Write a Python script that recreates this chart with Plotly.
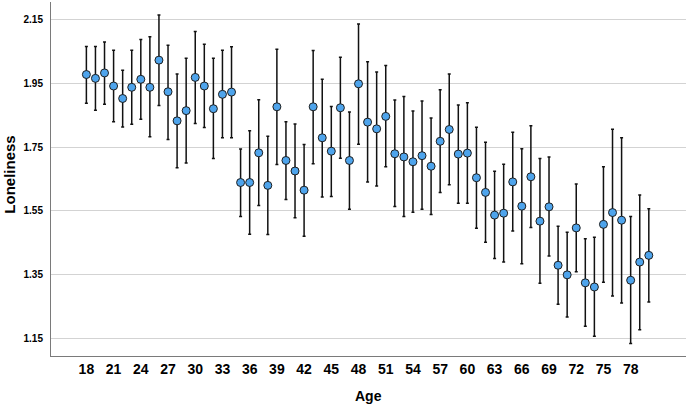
import plotly.graph_objects as go

ages = list(range(18, 81))
means = [1.977, 1.965, 1.982, 1.941, 1.902, 1.937, 1.962, 1.937, 2.022, 1.923,
         1.832, 1.864, 1.968, 1.941, 1.870, 1.915, 1.922, 1.639, 1.639, 1.732,
         1.630, 1.876, 1.708, 1.675, 1.615, 1.876, 1.779, 1.737, 1.873, 1.708,
         1.948, 1.828, 1.807, 1.846, 1.729, 1.719, 1.704, 1.723, 1.690, 1.768,
         1.805, 1.728, 1.731, 1.654, 1.608, 1.537, 1.543, 1.641, 1.565, 1.657,
         1.518, 1.563, 1.380, 1.350, 1.497, 1.325, 1.312, 1.508, 1.545, 1.521,
         1.333, 1.390, 1.411]
ci_low = [1.887, 1.865, 1.884, 1.829, 1.813, 1.821, 1.837, 1.782, 1.880, 1.774,
          1.685, 1.700, 1.824, 1.811, 1.714, 1.779, 1.779, 1.533, 1.477, 1.567,
          1.476, 1.695, 1.586, 1.529, 1.471, 1.698, 1.594, 1.595, 1.715, 1.555,
          1.759, 1.641, 1.628, 1.688, 1.564, 1.533, 1.546, 1.555, 1.539, 1.608,
          1.632, 1.574, 1.574, 1.496, 1.452, 1.401, 1.390, 1.487, 1.385, 1.498,
          1.324, 1.409, 1.258, 1.218, 1.360, 1.189, 1.158, 1.327, 1.284, 1.262,
          1.135, 1.178, 1.265]
ci_high = [2.065, 2.065, 2.079, 2.053, 1.990, 2.053, 2.087, 2.095, 2.163, 2.069,
           1.979, 2.028, 2.112, 2.072, 2.028, 2.053, 2.064, 1.744, 1.801, 1.898,
           1.784, 2.056, 1.829, 1.822, 1.758, 2.052, 1.962, 1.877, 2.031, 1.860,
           2.135, 2.017, 1.985, 2.005, 1.897, 1.908, 1.863, 1.894, 1.841, 1.929,
           1.979, 1.882, 1.889, 1.812, 1.765, 1.674, 1.696, 1.796, 1.745, 1.817,
           1.714, 1.719, 1.502, 1.483, 1.634, 1.463, 1.468, 1.688, 1.806, 1.779,
           1.533, 1.600, 1.557]
x_ticks = list(range(18, 79, 3))
y_ticks = [1.15, 1.35, 1.55, 1.75, 1.95, 2.15]

err_plus = [h - m for h, m in zip(ci_high, means)]
err_minus = [m - l for m, l in zip(means, ci_low)]

fig = go.Figure()
fig.add_trace(go.Scatter(
    x=ages, y=means, mode="markers",
    marker=dict(size=8, color="#4ea4ec", line=dict(color="#1e1e1e", width=1)),
    error_y=dict(type="data", symmetric=False, array=err_plus, arrayminus=err_minus,
                 color="#111111", thickness=1.5, width=1.5),
    showlegend=False,
))

fig.update_layout(
    width=688, height=404,
    margin=dict(l=50.5, r=2, t=2, b=48, autoexpand=False),
    paper_bgcolor="white", plot_bgcolor="white",
    font=dict(family="Liberation Sans, Arial, sans-serif", color="black"),
    xaxis=dict(range=[14.1, 84.1], tickvals=x_ticks, ticktext=[str(t) for t in x_ticks],
               showgrid=False, zeroline=False, showline=True, linecolor="#7a7a7a", linewidth=1,
               ticks="", tickfont=dict(size=14, weight="bold"), automargin=False),
    yaxis=dict(range=[1.096, 2.204], tickvals=y_ticks, ticktext=["%.2f" % t for t in y_ticks],
               showgrid=True, gridcolor="#d3d3d3", gridwidth=1, zeroline=False,
               showline=True, linecolor="#7a7a7a", linewidth=1,
               ticks="", ticklabelstandoff=5, tickfont=dict(size=10, weight="bold"), automargin=False),
    annotations=[
        dict(text="Age", xref="paper", yref="paper", x=0.5, y=-0.113,
             xanchor="center", yanchor="middle", showarrow=False,
             font=dict(size=14, weight="bold")),
        dict(text="Loneliness", xref="paper", yref="paper", x=-0.0653, y=0.511,
             xanchor="center", yanchor="middle", showarrow=False, textangle=-90,
             font=dict(size=15, weight="bold")),
    ],
)

fig.write_html("out.html")
